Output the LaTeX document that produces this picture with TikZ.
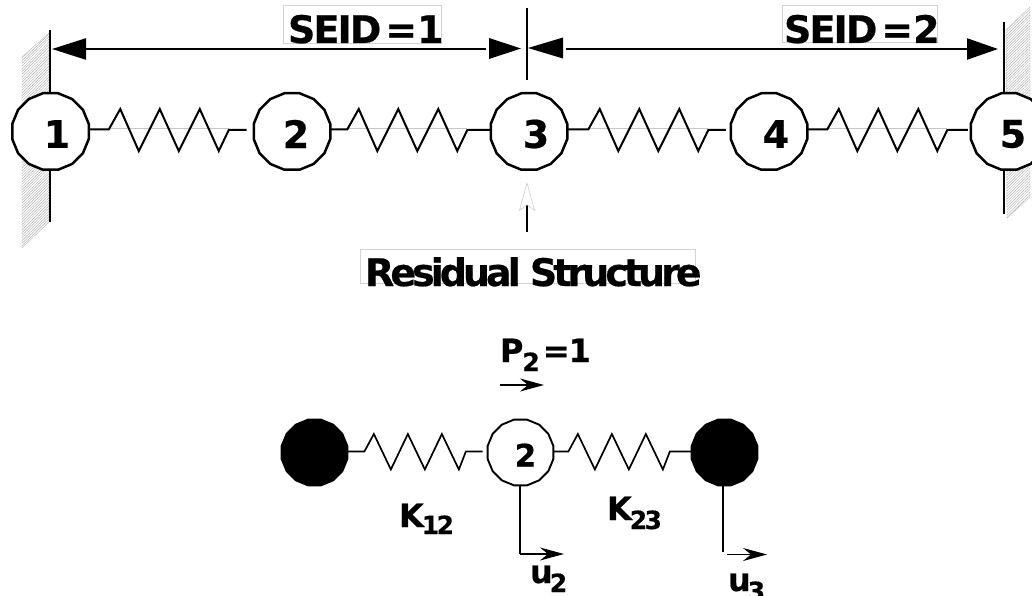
\documentclass[tikz,border=0pt]{standalone}
\usepackage{fontspec}
\setmainfont{DejaVu Sans}
\newfontfamily\heavy[FakeBold=0.5]{DejaVu Sans Bold}
\newfontfamily\tighta[FakeBold=0.5,LetterSpace=-10.5]{DejaVu Sans Bold}
\newfontfamily\tightb[FakeBold=0.5,LetterSpace=-5]{DejaVu Sans Bold}
\usetikzlibrary{arrows.meta,calc,patterns.meta,shapes.geometric}
\newcommand\lblsize[1]{\fontsize{#1}{#1}\selectfont}
\newcommand\springtop[4]{% from, to, lead length, gap
  \draw[hairline] ($(#1.east)+(#3,-3.5)$) -- ++(120,0);
  \draw[springbig] ($(#1.east)+(0,-2)$) -- ++(#3,0) -- ++(11.5,-20.5) -- ++(18.5,42) -- ++(21,-42) -- ++(19,42) -- ++(21,-42) -- ++(19,42) -- ++(10,-21) -- ($(#2.west)+(-#4,-1.5)$);}
\newcommand\springlow[4]{%
  \draw[springsmall] ($(#1.east)+(0,-1)$) -- ++(#3,0) -- ++(9.5,-17.5) -- ++(17,35.5) -- ++(17,-35.5) -- ++(17,35.5) -- ++(17,-35.5) -- ++(17,35.5) -- ++(7,-18) -- ($(#2.west)+(-#4,-1)$);}
\tikzset{
  wall/.style={line width=2.4pt},
  hatch/.style={draw=gray!50,line width=.4pt,pattern={Lines[angle=45,distance=1.9pt,line width=.45pt]},pattern color=gray!65},
  hairline/.style={draw=gray!45,line width=.5pt},
  labelbox/.style={draw=gray!35,line width=.6pt,fill=white},
  bignode/.style={regular polygon,regular polygon sides=16,draw,fill=white,line width=2.5pt,minimum size=78pt,inner sep=0pt,outer sep=0pt},
  smallnode/.style={regular polygon,regular polygon sides=16,draw,fill=white,line width=1.9pt,minimum size=67pt,inner sep=0pt,outer sep=0pt},
  solidnode/.style={smallnode,fill=black},
  springbig/.style={line width=2pt,line join=miter},
  springsmall/.style={line width=1.7pt,line join=miter},
  dim/.style={line width=2.3pt},
  thinarrow/.style={line width=1.6pt,-{Stealth[length=24pt,width=13pt,inset=8pt]}},
  txt/.style={inner sep=0pt,outer sep=0pt,anchor=base west},
  num/.style={inner sep=0pt,font=\heavy\lblsize{38}},
}
\begin{document}
\begin{tikzpicture}[x=1pt,y=-1pt]
\useasboundingbox (0,0) rectangle (1032,596);
% walls
\draw[hatch] (22,57) -- (49,33) -- (49,222) -- (22,248) -- cycle;
\draw[hatch] (1006,30) -- (1030,7) -- (1030,197) -- (1007,218) -- cycle;
% nodes, top row
\node[bignode] (n1) at (50.5,131.5) {};
\node[bignode] (n2) at (292,131.5) {};
\node[bignode] (n3) at (529,131.5) {};
\node[bignode] (n4) at (769,131.5) {};
\node[bignode] (n5) at (1009,131.5) {};
\node[num] (t1) at (57,134) {1};
\node[num] (t2) at (296,134) {2};
\node[num] (t3) at (536,134) {3};
\node[num] (t4) at (776,134) {4};
\node[num] (t5) at (1013,134) {5};
% wall lines
\coordinate (w1a) at (50,30);
\coordinate (w1b) at (50,222);
\coordinate (w5a) at (1004,22);
\coordinate (w5b) at (1004,214);
\draw[wall] (w1a) -- (n1.north -| w1a);
\draw[wall] (n1.south -| w1b) -- (w1b);
\draw[wall] (w5a) -- (1004,93);
\draw[wall] (1004,170) -- (w5b);
% springs
\springtop{n1}{n2}{20}{7}
\springtop{n2}{n3}{17}{0}
\springtop{n3}{n4}{21}{5}
\springtop{n4}{n5}{20}{3}
% labels
\node[labelbox,minimum width=158pt,minimum height=38pt,inner sep=0pt,anchor=north west] (b1) at (283,5) {};
\node[labelbox,minimum width=155pt,minimum height=37pt,inner sep=0pt,anchor=north west] (b2) at (782,5) {};
\node[labelbox,minimum width=335pt,minimum height=34pt,inner sep=0pt,anchor=north west] (b3) at (360,249) {};
\node[txt,font=\lblsize{38}\tightb] (seid1) at (288,43) {SEID\hspace{4pt}=\hspace{0pt}1};
\node[txt,font=\lblsize{38}\tightb] (seid2) at (784,43) {SEID\hspace{4pt}=\hspace{0pt}2};
\node[txt,font=\lblsize{38}\tighta] (res) at (365,286) {Residual Structure};
% dimension arrows
\coordinate (tipL) at (52,49);
\coordinate (tipM) at (521,48.5);
\coordinate (tipN) at (528,48);
\coordinate (tipR) at (998,49);
\coordinate (endA) at (486,49);
\coordinate (endB) at (566,49);
\draw[dim,-{Triangle[length=34pt,width=21pt]}] (endA) -- (tipL);
\draw[dim,-{Triangle[length=31pt,width=21pt]}] (endB) -- (tipR);
\fill (tipM) -- ++(-32,-10.5) -- ++(0,21) -- cycle;
\fill (tipN) -- ++(35,-10.5) -- ++(0,21) -- cycle;
\coordinate (v3a) at (527,8);
\coordinate (v3b) at (527,80);
\draw[wall] (v3a) -- (v3b);
% residual pointer
\coordinate (p3a) at (527,232);
\coordinate (p3b) at (527,182);
\draw[wall,-{Stealth[length=29pt,width=16pt,inset=6pt,fill=white,color=gray!45,line width=.5pt]}] (p3a) -- (p3b);
% lower diagram
\node[solidnode] (m1) at (314.5,452.5) {};
\node[smallnode] (m2) at (520.5,452.5) {};
\node[solidnode] (m3) at (724.5,452.5) {};
\node[inner sep=0pt,font=\heavy\lblsize{31}] (m2t) at (525.5,455) {2};
\springlow{m1}{m2}{17}{5}
\springlow{m2}{m3}{15}{0}
% load
\coordinate (pa) at (500,385);
\coordinate (pb) at (544,385);
\draw[thinarrow] (pa) -- (pb);
\node[txt,font=\lblsize{32}\heavy] (pl) at (500,362) {P\hspace{-1pt}\raisebox{-9pt}{\lblsize{25}2}\hspace{3pt}=\hspace{-1pt}1};
% displacements
\coordinate (u2c) at (520,554);
\coordinate (u2e) at (564,554);
\draw[line width=1.7pt] (m2.south -| u2c) -- (u2c);
\draw[thinarrow] (u2c) -- (u2e);
\coordinate (u3c) at (722.7,552);
\draw[line width=1.7pt] (m3.south -| u3c) -- (u3c);
\coordinate (u3a) at (727,554.5);
\coordinate (u3b) at (767,554.5);
\draw[thinarrow] (u3a) -- (u3b);
\node[txt,font=\lblsize{32}\heavy] (k12) at (399,527) {K\hspace{-2pt}\raisebox{-7pt}{\lblsize{25}\tighta 12}};
\node[txt,font=\lblsize{32}\heavy] (k23) at (607,520) {K\hspace{-2pt}\raisebox{-9pt}{\lblsize{25}\tighta 23}};
\node[txt,font=\lblsize{32}\heavy] (u2) at (530,583) {u\hspace{-3pt}\raisebox{-9pt}{\lblsize{25}2}};
\node[txt,font=\lblsize{32}\heavy] (u3) at (728,591) {u\hspace{-3pt}\raisebox{-9pt}{\lblsize{25}3}};
\end{tikzpicture}
\end{document}
